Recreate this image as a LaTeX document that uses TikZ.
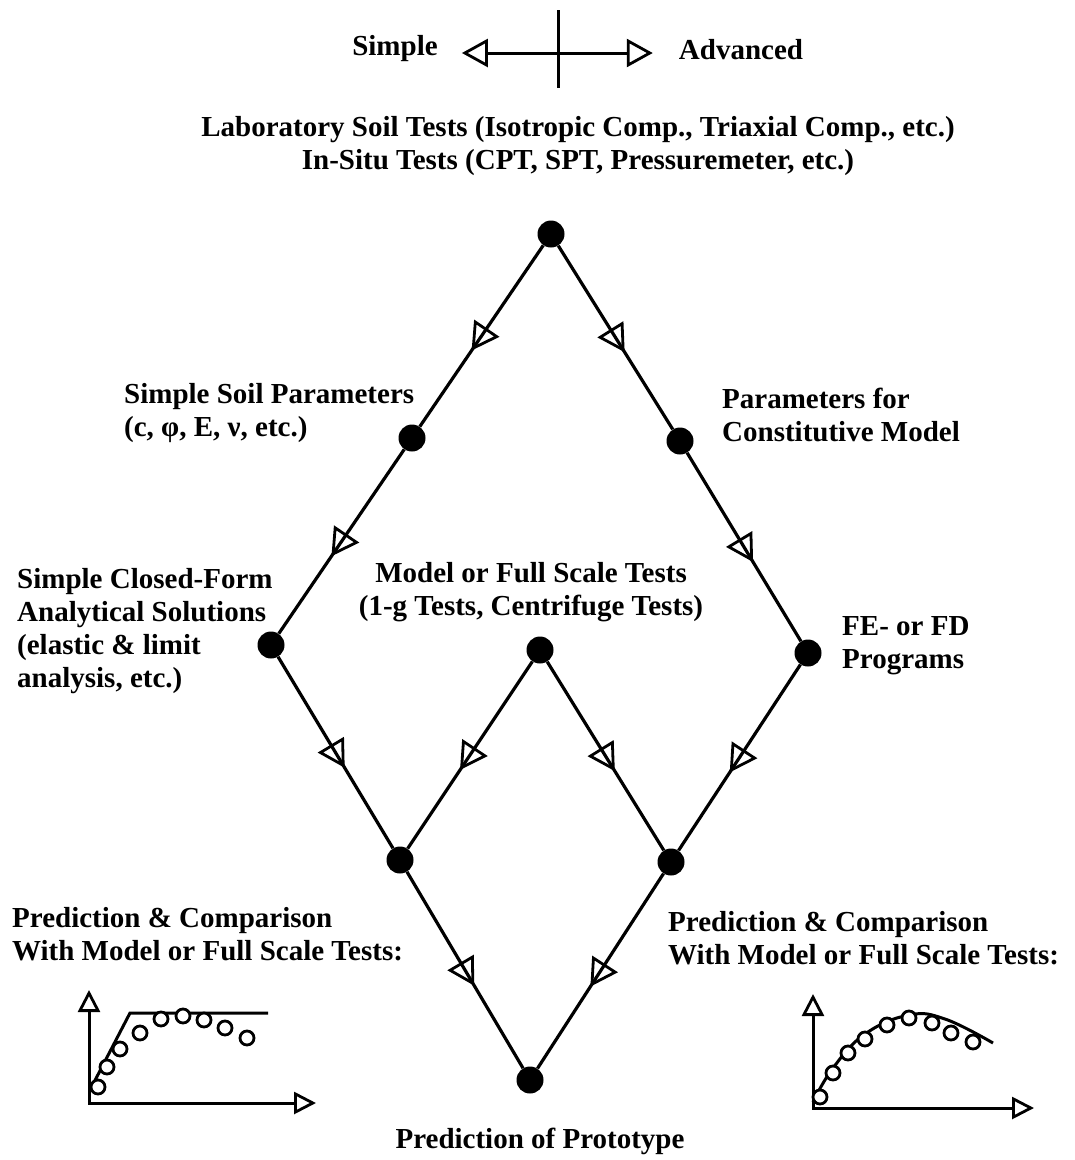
\documentclass[tikz,border=0pt]{standalone}
\usepackage{fontspec}
\setmainfont{Liberation Serif}
\usepackage{tikz}
\usetikzlibrary{arrows.meta,positioning,calc,decorations.markings}
\tikzset{
  dot/.style={circle,fill=black,minimum size=27pt,inner sep=0pt},
  lbl/.style={font=\fontsize{29}{33}\selectfont\bfseries,inner sep=0pt},
  lblL/.style={lbl,align=left,anchor=west},
  lblC/.style={lbl,align=center},
  flow/.style={line width=3.2pt,postaction={decorate},
    decoration={markings,mark=at position 0.58 with
      {\arrow{Triangle[open,length=27pt,width=30pt,line width=2.8pt]}}}},
  axis/.style={line width=3pt,-{Triangle[open,length=22pt,width=22pt,line width=2.8pt]}},
  meas/.style={circle,draw=black,line width=2.8pt,fill=white,minimum size=14pt,inner sep=0pt},
  fitline/.style={line width=3pt},
}
\begin{document}
\begin{tikzpicture}[x=1pt,y=-1pt]
  \useasboundingbox (0,0) rectangle (1075,1160);
  % simple <-> advanced scale
  \node[lbl] (simple) at (395,49) {Simple};
  \node[lbl] (adv) at (741,50) {Advanced};
  \draw[line width=3pt,{Triangle[open,length=26pt,width=28pt,line width=2.8pt]}-{Triangle[open,length=26pt,width=28pt,line width=2.8pt]}]
    ([xshift=24pt]simple.east |- 0,53) -- ([xshift=-26pt]adv.west |- 0,53);
  \draw[line width=3pt] (558,10) -- (558,88);
  \node[lblC] (tests) at (578,146) {Laboratory Soil Tests (Isotropic Comp., Triaxial Comp., etc.)\\In-Situ Tests (CPT, SPT, Pressuremeter, etc.)};
  % dots
  \node[dot] (top) at (551,234) {};
  \node[dot] (ssp) at (412,438) {};
  \node[dot] (pcm) at (680,441) {};
  \node[dot] (scf) at (271,645) {};
  \node[dot] (mfs) at (540,650) {};
  \node[dot] (fe)  at (808,653) {};
  \node[dot] (pl)  at (400,860) {};
  \node[dot] (pr)  at (671,862) {};
  \node[dot] (proto) at (530,1080) {};
  % labels
  \node[lblL] (sspL) at (124,413) {Simple Soil Parameters\\(c, φ, E, ν, etc.)};
  \node[lblL] (pcmL) at (722,415) {Parameters for\\Constitutive Model};
  \node[lblL] (scfL) at (17,631) {Simple Closed-Form\\Analytical Solutions\\(elastic \& limit\\analysis, etc.)};
  \node[lblC] (mfsL) at (531,592) {Model or Full Scale Tests\\(1-g Tests, Centrifuge Tests)};
  \node[lblL] (feL) at (842,646) {FE- or FD\\Programs};
  \node[lblL] (plL) at (12,934) {Prediction \& Comparison\\With Model or Full Scale Tests:};
  \node[lblL] (prL) at (668,938) {Prediction \& Comparison\\With Model or Full Scale Tests:};
  \node[lblC] (protoL) at (540,1141) {Prediction of Prototype};
  % flow
  \draw[flow] (top) -- (ssp);
  \draw[flow] (top) -- (pcm);
  \draw[flow] (ssp) -- (scf);
  \draw[flow] (pcm) -- (fe);
  \draw[flow] (scf) -- (pl);
  \draw[flow] (mfs) -- (pl);
  \draw[flow] (mfs) -- (pr);
  \draw[flow] (fe) -- (pr);
  \draw[flow] (pl) -- (proto);
  \draw[flow] (pr) -- (proto);
  % left plot
  \draw[axis] (89,1103) -- (89,990);
  \draw[axis] (88,1103) -- (316,1103);
  \draw[fitline] (90,1090) -- (130,1013) -- (268,1013);
  \foreach \p in {(98,1087),(107,1067),(120,1049),(140,1033),(161,1019),(183,1016),(204,1020),(225,1028),(247,1038)}
    \node[meas] at \p {};
  % right plot
  \draw[axis] (813,1108) -- (813,994);
  \draw[axis] (812,1108) -- (1034,1108);
  \draw[fitline] plot[smooth,tension=0.7] coordinates {(813,1102) (833,1068) (865,1034) (909,1015) (945,1019) (993,1043)};
  \foreach \p in {(820,1097),(833,1073),(848,1053),(865,1039),(887,1025),(909,1018),(932,1023),(951,1033),(973,1042)}
    \node[meas] at \p {};
\end{tikzpicture}
\end{document}
